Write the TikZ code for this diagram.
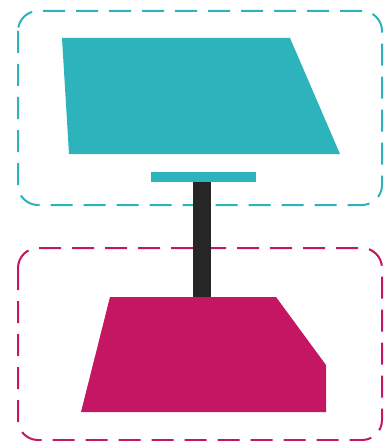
\documentclass[tikz,border=0pt]{standalone}
\usepackage{xcolor}
\usepackage{tikz}
\usetikzlibrary{calc,positioning}
\definecolor{PanelTeal}{HTML}{2CB3BB}
\definecolor{BaseMagenta}{HTML}{C41662}
\definecolor{PoleDark}{HTML}{262626}
\tikzset{
    groupframe/.style={draw=#1, line width=2pt, dash pattern=on 22pt off 11pt, rounded corners=20pt},
    solidpart/.style={fill=#1, draw=none}
}
\begin{document}
\begin{tikzpicture}[x=1pt, y=-1pt]
        \useasboundingbox (0,0) rectangle (387,441);
        % dashed groups
        \draw[groupframe=PanelTeal] (18,11) rectangle (382,205);
        \draw[groupframe=BaseMagenta] (18,248) rectangle (382,440);
        % pole between the two parts
        \coordinate (poletop) at (202,182);
        \coordinate (polebot) at (202,297);
        \fill[PoleDark] ($(poletop)+(-9,0)$) rectangle ($(polebot)+(9,0)$);
        % upper panel and its mount
        \fill[solidpart=PanelTeal] (62,38) -- (290,38) -- (340,154) -- (69,154) -- cycle;
        \fill[solidpart=PanelTeal] (151,172) rectangle (256,182);
        % lower base
        \fill[solidpart=BaseMagenta] (110,297) -- (276,297) -- (326,365) -- (326,412) -- (81,412) -- cycle;
    \end{tikzpicture}
\end{document}
